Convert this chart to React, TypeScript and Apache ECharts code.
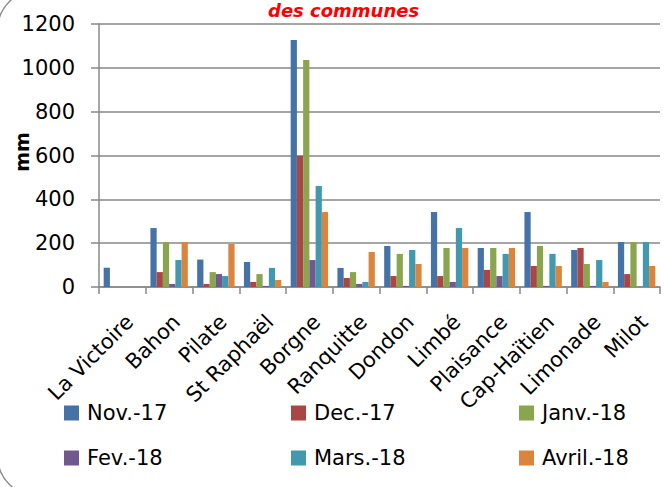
import React, { useEffect, useRef } from "react";
import * as echarts from "echarts";

const categories = ["La Victoire", "Bahon", "Pilate", "St Raphaël", "Borgne", "Ranquitte", "Dondon", "Limbé", "Plaisance", "Cap-Haïtien", "Limonade", "Milot"];
const seriesNames = ["Nov.-17", "Dec.-17", "Janv.-18", "Fev.-18", "Mars.-18", "Avril.-18"];
const nov17 = [88, 269, 125, 114, 1127, 87, 187, 342, 178, 342, 169, 205];
const dec17 = [0, 68, 14, 23, 599, 41, 50, 50, 78, 96, 178, 59];
const janv18 = [0, 205, 68, 59, 1036, 68, 151, 178, 178, 187, 105, 205];
const fev18 = [0, 14, 59, 5, 123, 14, 5, 23, 50, 5, 5, 0];
const mars18 = [0, 123, 50, 87, 461, 23, 169, 269, 151, 151, 123, 205];
const avril18 = [0, 205, 196, 32, 342, 160, 105, 178, 178, 96, 23, 96];
const colors = ["#4572A7", "#AA4643", "#89A54E", "#71588F", "#4198AF", "#DB843D"];
const titleText = "des communes";
const yAxisName = "mm";

const FONT = "DejaVu Sans, Liberation Sans, sans-serif";

export default function App() {
  const ref = useRef<HTMLDivElement>(null);
  useEffect(() => {
    document.body.style.margin = "0";
    if (!ref.current) return;
    const chart = echarts.init(ref.current, undefined, { renderer: "svg" });
    const data = [nov17, dec17, janv18, fev18, mars18, avril18];
    const legendPos = [
      [64, 401], [291, 401], [519, 401],
      [64, 446], [291, 446], [519, 446],
    ];
    chart.setOption({
      animation: false,
      color: colors,
      textStyle: { fontFamily: FONT },
      legend: seriesNames.map((n, i) => ({
        data: [n],
        left: legendPos[i][0],
        top: legendPos[i][1],
        icon: "rect",
        itemWidth: 15,
        itemHeight: 15,
        itemGap: 0,
        selectedMode: false,
        textStyle: { fontFamily: FONT, fontSize: 21, color: "#000", lineHeight: 24, padding: [0, 0, 0, 3] },
        padding: 0,
      })),
      grid: { left: 99, right: 4, top: 24, bottom: 200, containLabel: false, outerBoundsMode: "none" },
      xAxis: {
        type: "category",
        data: categories,
        axisLine: { lineStyle: { color: "#898989", width: 1.5 } },
        axisTick: { show: true, length: 7, lineStyle: { color: "#898989", width: 1.5 } },
        axisLabel: {
          rotate: 45,
          margin: 24,
          fontSize: 21,
          color: "#000",
          fontFamily: FONT,
          interval: 0,
          hideOverlap: false,
          align: "right",
          verticalAlign: "top",
        },
      },
      yAxis: {
        type: "value",
        min: 0,
        max: 1200,
        interval: 200,
        axisLine: { show: true, lineStyle: { color: "#898989", width: 1.5 } },
        axisTick: { show: true, length: 8, lineStyle: { color: "#898989", width: 1.5 } },
        axisLabel: { margin: 24, fontSize: 21, color: "#000", fontFamily: FONT, formatter: (v: number) => String(v) },
        splitLine: { show: true, lineStyle: { color: "#898989", width: 1.5 } },
      },
      series: seriesNames.map((n, i) => ({
        name: n,
        type: "bar",
        data: data[i],
        barGap: "0%",
        barCategoryGap: "20%",
        itemStyle: { color: colors[i] },
      })),
      graphic: [
        {
          type: "text",
          left: 268,
          top: 1,
          style: {
            text: titleText,
            fill: "#FF0000",
            font: `italic bold 18px ${FONT}`,
          },
        },
        {
          type: "text",
          x: 22,
          y: 152,
          rotation: Math.PI / 2,
          style: {
            text: yAxisName,
            fill: "#000",
            font: `bold 19px ${FONT}`,
            align: "center",
            verticalAlign: "middle",
          },
        },
        {
          type: "rect",
          shape: { x: -2.5, y: -10, width: 700, height: 506, r: 40 },
          style: { fill: "none", stroke: "#8c8c8c", lineWidth: 1.5 },
          silent: true,
        },
      ],
    });
    return () => chart.dispose();
  }, []);
  return <div ref={ref} style={{ width: 664, height: 487 }} />;
}
